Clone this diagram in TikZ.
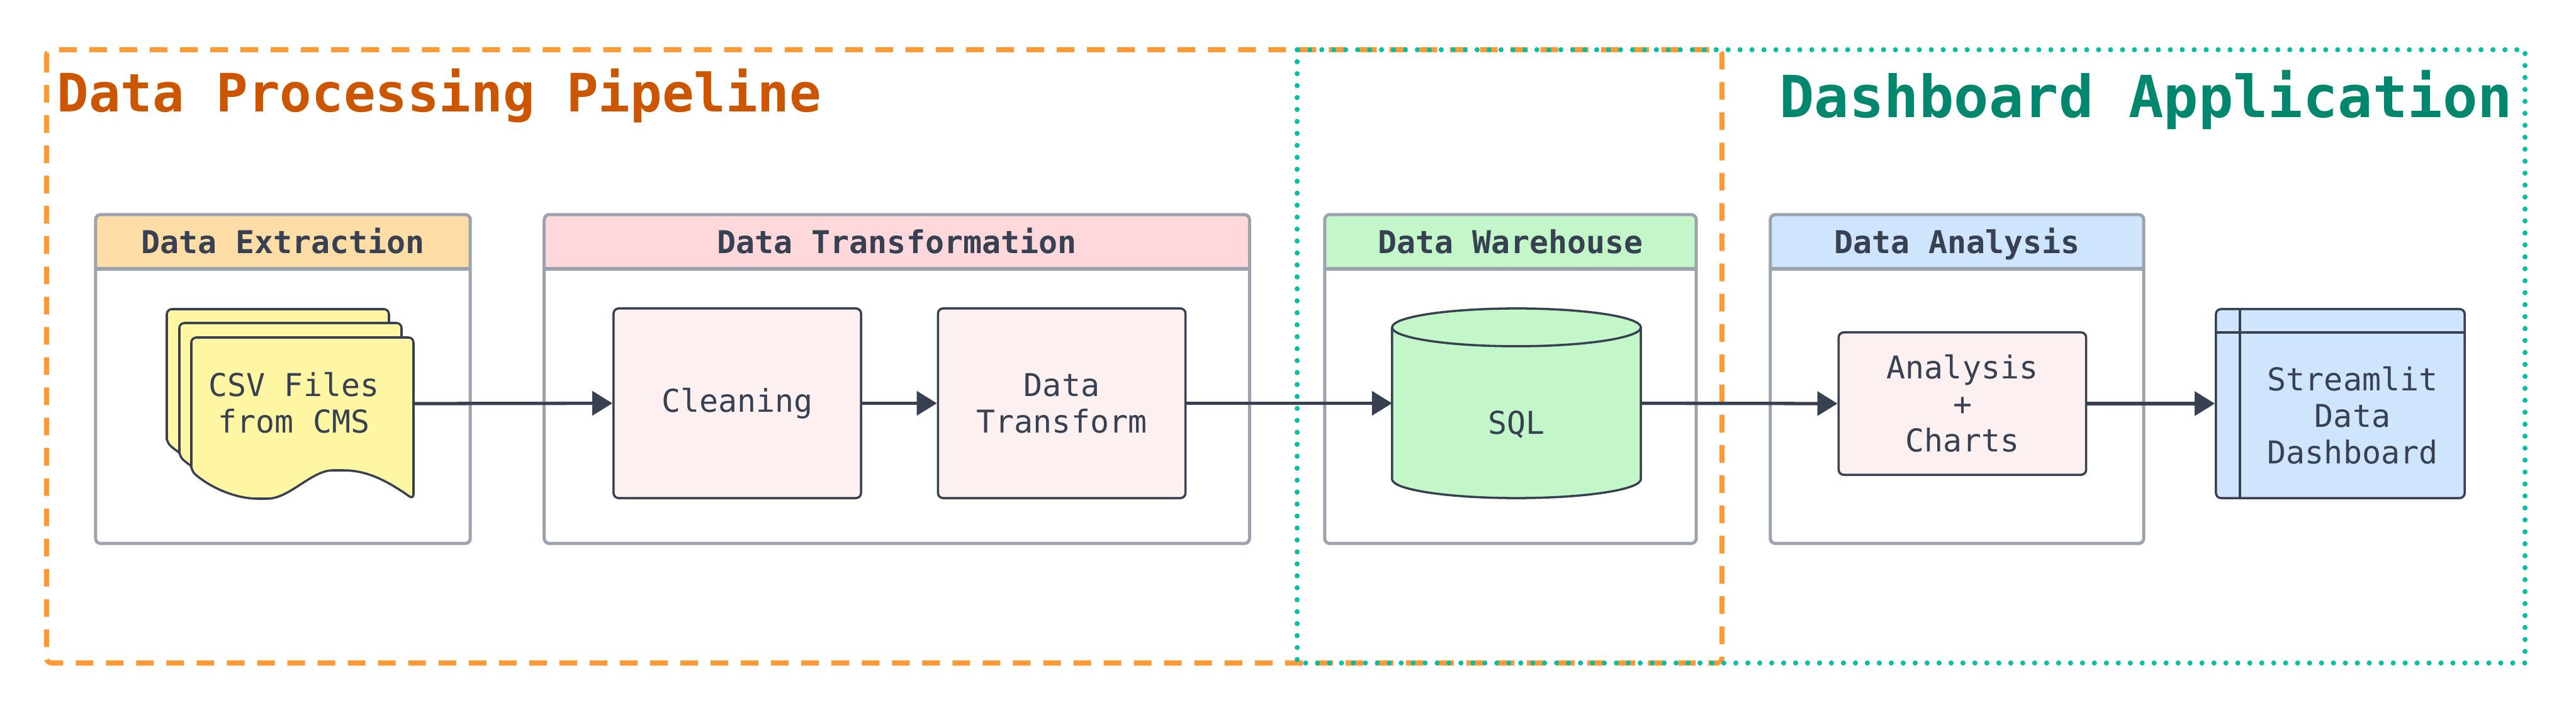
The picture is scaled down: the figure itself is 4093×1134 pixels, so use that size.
\documentclass[tikz,border=0pt]{standalone}
\usepackage{fontspec}
\setmonofont{DejaVu Sans Mono}
\usetikzlibrary{arrows.meta}

\definecolor{ink}{HTML}{374151}
\definecolor{framegray}{HTML}{9CA3AF}
\definecolor{pipeorange}{HTML}{FF9933}
\definecolor{pipetitle}{HTML}{CC5500}
\definecolor{dashteal}{HTML}{00BFA0}
\definecolor{dashtitle}{HTML}{00876E}
\definecolor{extfill}{HTML}{FEDEA6}
\definecolor{trafill}{HTML}{FFD8DB}
\definecolor{stepfill}{HTML}{FDF0F0}
\definecolor{warfill}{HTML}{C3F6C9}
\definecolor{anafill}{HTML}{CFE4FD}
\definecolor{docfill}{HTML}{FEF6A2}

\begin{document}
\begin{tikzpicture}[
  x = 0.01cm, y = -0.01cm,
  >={Triangle[length = 0.32cm, width = 0.38cm]},
  flow/.style = {draw = ink, line width = 1.5pt},
  group/.style = {draw = framegray, line width = 1.42pt, fill = white,
    rounded corners = 0.08cm, minimum height = 5.22cm, inner sep = 0pt,
    path picture = {
      \fill [#1, sharp corners] (path picture bounding box.north west)
        rectangle ([yshift = -0.86cm] path picture bounding box.north east);
      \draw [framegray, line width = 1.7pt, sharp corners]
        ([yshift = -0.86cm] path picture bounding box.north west) --
        ([yshift = -0.86cm] path picture bounding box.north east);}},
  header/.style = {font = \ttfamily\bfseries\fontsize{14.2}{16.5}\selectfont,
    text = ink, anchor = base, inner sep = 0pt},
  nodetext/.style = {font = \ttfamily\fontsize{14.2}{16.5}\selectfont,
    text = ink, align = center, inner sep = 0pt},
  stepbox/.style = {draw = ink, line width = 1pt, fill = stepfill,
    rounded corners = 0.08cm, minimum width = 3.93cm,
    minimum height = 3.01cm, nodetext},
  docpage/.style = {draw = ink, line width = 1pt, fill = docfill,
    rounded corners = 0.08cm}
  ]

  \useasboundingbox (0,0) rectangle (4093,1134);

  % Containers
  \draw [pipeorange, line width = 2.28pt, rounded corners = 0.08cm,
    dash pattern = on 7.97pt off 5.69pt] (74,79) rectangle (2736,1053);
  \draw [dashteal, line width = 2.28pt, line cap = round,
    dash pattern = on 0pt off 5.4pt] (2061,79) rectangle (4012,1053);

  \node at (90  , 178) [anchor = base west, inner sep = 0pt, text = pipetitle,
    font = \ttfamily\bfseries\fontsize{23.9}{28}\selectfont,
    name = T_pipe] {Data Processing Pipeline};
  \node at (3993, 187) [anchor = base east, inner sep = 0pt, text = dashtitle,
    font = \ttfamily\bfseries\fontsize{26.2}{30}\selectfont,
    name = T_dash] {Dashboard Application};

  % Groups
  \node at ( 449.5, 602) [group = extfill, minimum width = 5.95cm, name = G_ext] {};
  \node at (1425  , 602) [group = trafill, minimum width = 11.2cm, name = G_tra] {};
  \node at (2400  , 602) [group = warfill, minimum width = 5.9cm , name = G_war] {};
  \node at (3109.5, 602) [group = anafill, minimum width = 5.93cm, name = G_ana] {};

  \node at ( 449.5, 403) [header, name = H_ext] {Data Extraction};
  \node at (1425  , 403) [header, name = H_tra] {Data Transformation};
  \node at (2400  , 403) [header, name = H_war] {Data Warehouse};
  \node at (3109.5, 403) [header, name = H_ana] {Data Analysis};

  % Nodes
  \foreach \dx/\dy in {-39/-45, -19/-23, 0/0}
    \draw [docpage, shift = {(\dx, \dy)}] (304,748) -- (304,536) -- (657,536)
      -- (657,793) .. controls (610,760) and (580,747) .. (537,747)
      .. controls (495,747) and (460,792) .. (417,792)
      .. controls (375,792) and (335,775) .. (304,748) -- cycle;
  \node at (480.5, 641) [minimum width = 3.53cm, minimum height = 2.57cm,
    name = CSV] {};
  \node at (467  , 640) [nodetext, name = CSV_txt] {CSV Files\\from CMS};

  \node at (1171.5, 640.5) [stepbox, name = Clean] {Cleaning};
  \node at (1687  , 640.5) [stepbox, name = Trans] {Data\\Transform};

  \node at (2409.5, 640.5) [minimum width = 3.95cm, minimum height = 3.01cm,
    outer sep = 0pt, name = SQL] {};
  \draw [ink, line width = 1pt, fill = warfill]
    ([yshift = -0.3cm] SQL.north west) -- ([yshift = 0.3cm] SQL.south west)
    arc [start angle = 180, end angle = 360, x radius = 1.975cm, y radius = 0.3cm]
    -- ([yshift = -0.3cm] SQL.north east)
    arc [start angle = 0, end angle = 180, x radius = 1.975cm, y radius = 0.3cm]
    -- cycle;
  \draw [ink, line width = 1pt] ([yshift = -0.3cm] SQL.north west)
    arc [start angle = 180, end angle = 360, x radius = 1.975cm, y radius = 0.3cm];
  \node at (2409.5, 690) [nodetext, anchor = base, name = SQL_txt] {SQL};

  \node at (3118, 641) [stepbox, minimum height = 2.26cm, name = Charts]
    {Analysis\\+\\Charts};

  \node at (3718.5, 641) [stepbox, fill = anafill, minimum width = 3.95cm,
    minimum height = 3cm, name = Dash] {};
  \draw [ink, line width = 1pt] ([xshift = 0.4cm] Dash.north west)
    -- ([xshift = 0.4cm] Dash.south west);
  \draw [ink, line width = 1pt] ([yshift = -0.39cm] Dash.north west)
    -- ([yshift = -0.39cm] Dash.north east);
  \node at (3738, 660) [nodetext, name = Dash_txt] {Streamlit\\Data\\Dashboard};

  % Flows
  \draw [flow, ->] (CSV.east)    to (Clean.west);
  \draw [flow, ->] (Clean.east)  to (Trans.west);
  \draw [flow, ->] (Trans.east)  to (SQL.west);
  \draw [flow, ->] (SQL.east)    to (Charts.west);
  \draw [flow, ->] (Charts.east) to (Dash.west);

\end{tikzpicture}
\end{document}
